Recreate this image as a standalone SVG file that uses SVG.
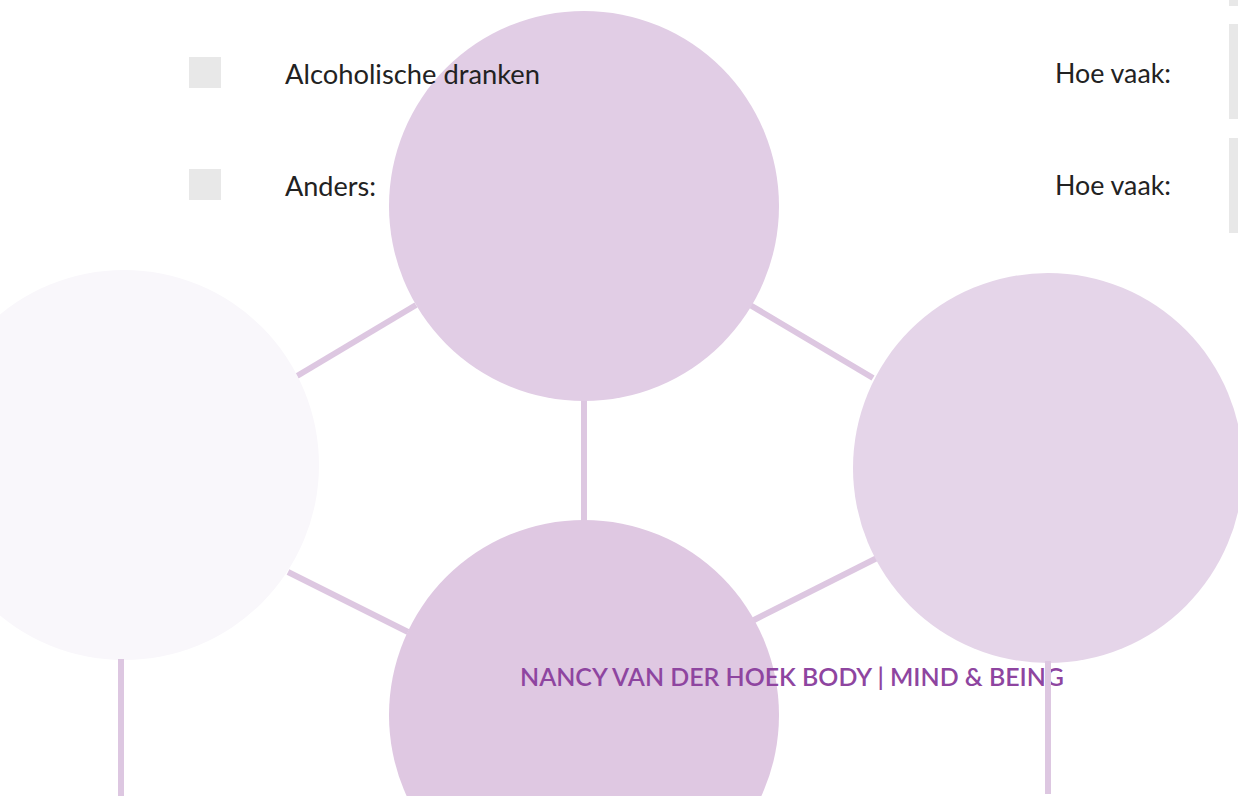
<svg xmlns="http://www.w3.org/2000/svg" width="1238" height="796" viewBox="0 0 1238 796">
  <style>
    .conn { stroke: #ddc7e1; stroke-width: 6; fill: none; }
    .box { fill: #e8e8e8; }
    .lbl { font-family: Lato, "Noto Sans", sans-serif; font-size: 27px; fill: #222222; }
    .foot { font-family: Lato, "Noto Sans", sans-serif; font-size: 24.5px; font-weight: 600; fill: #8e45a0; }
  </style>
  <rect width="1238" height="796" fill="#ffffff"/>
  <g id="sidebars">
    <rect class="box" x="1229" y="0" width="9" height="6"/>
    <rect class="box" x="1229" y="24" width="9" height="95"/>
    <rect class="box" x="1229" y="138" width="9" height="95"/>
  </g>
  <g id="connectors">
    <line class="conn" x1="297" y1="376" x2="416" y2="305"/>
    <line class="conn" x1="750" y1="305" x2="873" y2="378"/>
    <line class="conn" x1="584" y1="400" x2="584" y2="521"/>
    <line class="conn" x1="288" y1="572" x2="408" y2="632"/>
    <line class="conn" x1="752" y1="621" x2="877" y2="558"/>
  </g>
  <g id="node-top"><circle cx="584" cy="206" r="195" fill="#e1cde5"/></g>
  <g id="node-left"><circle cx="124" cy="465" r="195" fill="#f9f7fb"/></g>
  <g id="node-right"><circle cx="1048" cy="468" r="195" fill="#e5d5e9"/></g>
  <g id="node-bottom"><circle cx="584" cy="715" r="195" fill="#dfc8e2"/></g>
  <g id="checklist">
    <rect class="box" x="189" y="57" width="32" height="31"/>
    <rect class="box" x="189" y="169" width="32" height="31"/>
    <text class="lbl" x="285" y="84" textLength="255" lengthAdjust="spacingAndGlyphs">Alcoholische dranken</text>
    <text class="lbl" x="285" y="196" textLength="91" lengthAdjust="spacingAndGlyphs">Anders:</text>
    <text class="lbl" x="1055" y="83" textLength="116" lengthAdjust="spacingAndGlyphs">Hoe vaak:</text>
    <text class="lbl" x="1055" y="195" textLength="116" lengthAdjust="spacingAndGlyphs">Hoe vaak:</text>
  </g>
  <g id="footer">
    <text class="foot" x="520" y="686" textLength="544" lengthAdjust="spacingAndGlyphs">NANCY VAN DER HOEK BODY | MIND &amp; BEING</text>
  </g>
  <g id="connectors-down">
    <line class="conn" x1="121" y1="659" x2="121" y2="796"/>
    <line class="conn" x1="1048" y1="661" x2="1048" y2="794"/>
  </g>
</svg>
